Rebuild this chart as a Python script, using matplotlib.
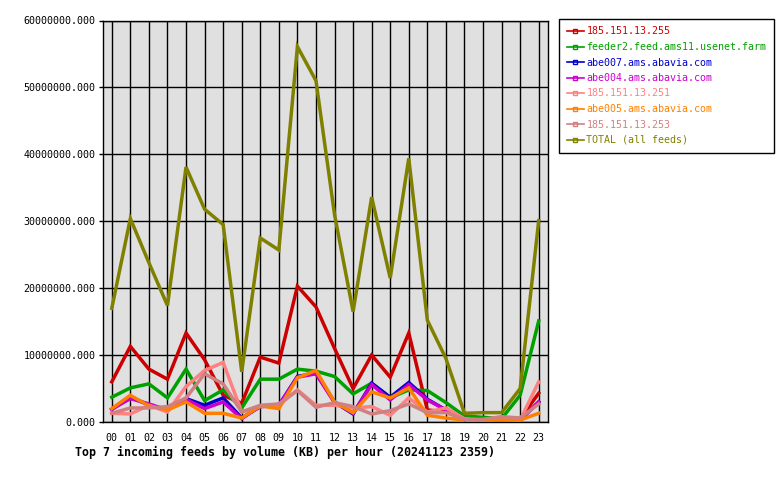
import matplotlib
matplotlib.use("Agg")
import matplotlib.pyplot as plt
from matplotlib.ticker import FormatStrFormatter

plt.rcParams['font.family'] = ['DejaVu Sans Mono']
plt.rcParams['font.size'] = 7.2

# ---------- DATA (KB per hour) ----------
hours = ["%02d" % h for h in range(24)]

feed_names = ["185.151.13.255", "feeder2.feed.ams11.usenet.farm", "abe007.ams.abavia.com",
              "abe004.ams.abavia.com", "185.151.13.251", "abe005.ams.abavia.com",
              "185.151.13.253", "TOTAL (all feeds)"]
feed_colors = ["#cc0000", "#00a000", "#0000cc", "#cc00cc", "#ff8080", "#ff8000", "#d08080", "#808000"]

red_255 = [6.0, 11.3, 7.9, 6.4, 13.3, 9.3, 4.0, 2.8, 9.7, 8.8, 20.3, 17.2,
           11.0, 5.0, 10.0, 6.7, 13.3, 1.8, 1.5, 0.5, 0.4, 0.4, 0.5, 4.3]
feeder2 = [3.7, 5.1, 5.7, 3.6, 7.9, 3.2, 4.8, 2.1, 6.4, 6.4, 7.9, 7.6,
           6.8, 4.2, 5.8, 3.6, 4.8, 4.7, 2.9, 0.9, 0.7, 0.5, 4.0, 15.1]
abe007 = [1.9, 3.8, 2.5, 1.8, 3.5, 2.5, 3.6, 0.6, 2.3, 2.5, 6.8, 7.3,
          3.0, 1.2, 5.8, 3.7, 5.9, 3.4, 1.8, 0.5, 0.3, 0.3, 0.3, 3.0]
abe004 = [1.9, 3.5, 2.7, 1.8, 3.4, 2.0, 3.0, 0.5, 2.4, 2.5, 6.7, 7.2,
          2.9, 1.3, 5.6, 3.3, 5.6, 3.3, 1.8, 0.5, 0.3, 0.3, 0.3, 3.0]
ip_251 = [1.3, 1.2, 2.5, 1.5, 5.3, 7.7, 8.9, 1.5, 2.3, 2.5, 4.8, 2.5,
          2.5, 2.1, 2.3, 1.0, 3.6, 1.5, 2.1, 0.5, 0.3, 0.4, 0.3, 6.0]
abe005 = [2.0, 4.0, 2.4, 1.8, 3.0, 1.3, 1.3, 0.6, 2.4, 2.0, 6.6, 7.7,
          3.0, 1.4, 4.5, 3.6, 5.1, 1.0, 0.6, 0.3, 0.3, 0.3, 0.3, 1.3]
ip_253 = [1.3, 2.1, 2.1, 2.3, 3.6, 7.2, 5.7, 1.5, 2.5, 2.7, 4.7, 2.2,
          2.9, 2.3, 1.2, 1.7, 2.7, 1.4, 1.4, 0.4, 0.4, 0.8, 0.6, 2.7]
total = [17.0, 30.4, 23.8, 17.4, 38.1, 31.8, 29.5, 7.5, 27.5, 25.7, 56.1, 51.0,
         31.0, 16.5, 33.6, 21.5, 39.4, 15.2, 9.5, 1.3, 1.4, 1.4, 5.0, 30.1]

series = [red_255, feeder2, abe007, abe004, ip_251, abe005, ip_253, total]

# ---------- PLOT ----------
fig = plt.figure(figsize=(7.8, 4.8), dpi=100)
ax = fig.add_axes([102.5 / 780, 1 - 422 / 480, (548 - 102.5) / 780, (422 - 20.5) / 480])
ax.set_facecolor("#e0e0e0")

x = list(range(24))
handles = []
for name, vals, col in zip(feed_names, series, feed_colors):
    ys = [v * 1e6 for v in vals]
    ax.plot(x, ys, color=col, lw=2.5, solid_joinstyle='miter', zorder=3)
    h, = ax.plot([], [], color=col, lw=1.2, marker='s', markersize=3,
                 markerfacecolor='none', markeredgecolor=col, label=name)
    handles.append(h)

ax.set_xlim(-0.5, 23.5)
ax.set_ylim(0, 60e6)
ax.set_xticks(x)
ax.set_xticklabels(hours)
ax.set_yticks([i * 10e6 for i in range(7)])
ax.yaxis.set_major_formatter(FormatStrFormatter('%.3f'))
ax.grid(True, color='black', lw=1, zorder=1)
ax.set_axisbelow(True)
ax.tick_params(axis='y', length=3, width=1, pad=2)
ax.tick_params(axis='x', length=0, pad=8)
for s in ax.spines.values():
    s.set_linewidth(1)

leg = fig.legend(handles=handles, loc='upper left', bbox_to_anchor=(559 / 780, 1 - 19 / 480),
                 fancybox=False, edgecolor='black', framealpha=1, handlelength=1.7,
                 handletextpad=0.3, labelspacing=0.55, borderpad=0.75, borderaxespad=0)
leg.get_frame().set_linewidth(1)
for t, col in zip(leg.get_texts(), feed_colors):
    t.set_color(col)

fig.text(75 / 780, 1 - 452 / 480, "Top 7 incoming feeds by volume (KB) per hour (20241123 2359)",
         fontweight='bold', fontsize=8.4, va='center', ha='left')

fig.savefig("out.png", dpi=100)
